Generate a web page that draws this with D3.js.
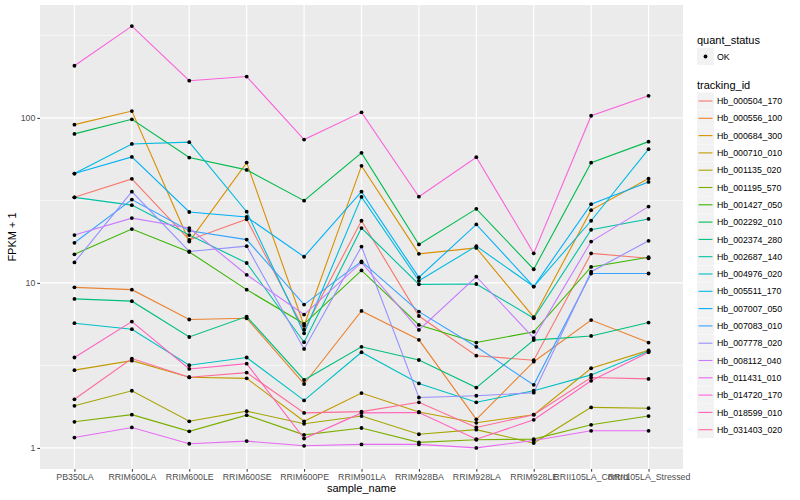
<!DOCTYPE html>
<meta charset="utf-8">
<script src="https://d3js.org/d3.v7.min.js"></script>
<style>
  body { margin: 0; background: #fff; }
  text { font-family: "Liberation Sans", Arial, sans-serif; }
</style>
<body>
<script>
// Samples on the x axis
var samples = ["PB350LA", "RRIM600LA", "RRIM600LE", "RRIM600SE", "RRIM600PE", "RRIM901LA",
               "RRIM928BA", "RRIM928LA", "RRIM928LE", "RRII105LA_Control", "RRII105LA_Stressed"];

// Tracking ids in legend order
var trackingIds = ["Hb_000504_170", "Hb_000556_100", "Hb_000684_300", "Hb_000710_010", "Hb_001135_020",
                   "Hb_001195_570", "Hb_001427_050", "Hb_002292_010", "Hb_002374_280", "Hb_002687_140",
                   "Hb_004976_020", "Hb_005511_170", "Hb_007007_050", "Hb_007083_010", "Hb_007778_020",
                   "Hb_008112_040", "Hb_011431_010", "Hb_014720_170", "Hb_018599_010", "Hb_031403_020"];

// FPKM + 1 for each tracking id, one value per sample
var hb000504 = [33, 42.7, 18.2, 24.3, 5.2, 23.8, 6.3, 3.62, 3.4, 15.1, 14.1];
var hb000556 = [9.4, 9.1, 6.0, 6.1, 2.44, 6.76, 4.52, 1.49, 3.33, 5.95, 4.35];
var hb000684 = [91, 110, 17.8, 53.6, 5.5, 51.2, 15.0, 16.3, 6.2, 27.6, 42.9];
var hb000710 = [2.96, 3.38, 2.68, 2.64, 1.45, 2.15, 1.65, 1.42, 1.59, 3.04, 3.9];
var hb001135 = [1.80, 2.22, 1.45, 1.67, 1.40, 1.56, 1.21, 1.29, 1.07, 1.76, 1.74];
var hb001195 = [1.44, 1.59, 1.26, 1.58, 1.2, 1.32, 1.08, 1.12, 1.13, 1.38, 1.56];
var hb001427 = [14.9, 21.2, 15.4, 9.1, 5.65, 11.9, 5.56, 4.35, 5.05, 12.5, 14.3];
var hb002292 = [80, 98, 57.5, 48.4, 31.5, 61.4, 17.1, 28.1, 12.1, 53.5, 71.8];
var hb002374 = [8.0, 7.75, 4.7, 6.25, 2.58, 4.1, 3.41, 2.32, 4.5, 4.77, 5.75];
var hb002687 = [33, 29.6, 19.5, 13.2, 4.37, 21.5, 9.8, 9.85, 6.1, 21, 24.4];
var hb004976 = [5.7, 5.24, 3.17, 3.53, 1.94, 3.8, 2.46, 1.89, 2.22, 2.77, 3.85];
var hb005511 = [46, 69.5, 71.3, 27, 4.95, 33.2, 10.3, 16.7, 9.5, 23.8, 64.6];
var hb007007 = [46, 58, 26.9, 25.1, 14.4, 35.7, 10.8, 22.6, 9.5, 30, 40.9];
var hb007083 = [17.5, 32, 20.7, 18.3, 7.39, 13.5, 6.7, 4.1, 2.41, 11.4, 11.4];
var hb007778 = [13.3, 35.7, 15.5, 16.7, 3.98, 16.6, 2.02, 2.07, 2.16, 11.7, 18];
var hb008112 = [19.5, 24.7, 21.5, 11.2, 6.43, 13.3, 5.19, 10.9, 4.63, 17.8, 29];
var hb011431 = [1.155, 1.33, 1.06, 1.10, 1.03, 1.05, 1.05, 1.0, 1.11, 1.27, 1.27];
var hb014720 = [207, 360, 168, 178, 73.9, 108, 33.3, 57.8, 15.1, 103, 136];
var hb018599 = [3.53, 5.83, 3.01, 3.24, 1.14, 1.63, 1.64, 1.13, 1.48, 2.55, 3.8];
var hb031403 = [1.97, 3.48, 2.68, 2.86, 1.63, 1.66, 1.89, 1.33, 1.59, 2.67, 2.62];

var seriesValues = [hb000504, hb000556, hb000684, hb000710, hb001135, hb001195, hb001427,
                    hb002292, hb002374, hb002687, hb004976, hb005511, hb007007, hb007083,
                    hb007778, hb008112, hb011431, hb014720, hb018599, hb031403];

// ggplot hue palette for 20 levels
var palette = ["#F8766D", "#EA8331", "#D89000", "#C09B00", "#A3A500", "#7CAE00", "#39B600",
               "#00BB4E", "#00BF7D", "#00C1A3", "#00BFC4", "#00BAE0", "#00B0F6", "#35A2FF",
               "#9590FF", "#C77CFF", "#E76BF3", "#FA62DB", "#FF62BC", "#FF6A98"];

var yBreaks = [1, 10, 100];
var yMinor = [Math.pow(10, 0.5), Math.pow(10, 1.5), Math.pow(10, 2.5)];

var W = 800, H = 500;
var panel = {left: 40, right: 683, top: 5, bottom: 469};

var svg = d3.select("body").append("svg")
    .attr("width", W).attr("height", H);

var series = trackingIds.map(function(id, i) {
  return {id: id, color: palette[i],
          values: samples.map(function(s, j) { return {sample: s, v: seriesValues[i][j]}; })};
});

// log scale with 5% expansion like ggplot
var all = [].concat.apply([], seriesValues);
var lo = Math.log10(d3.min(all)), hi = Math.log10(d3.max(all));
var pad = (hi - lo) * 0.05;
var y = d3.scaleLog()
    .domain([Math.pow(10, lo - pad), Math.pow(10, hi + pad)])
    .range([panel.bottom, panel.top]);

var x = d3.scalePoint()
    .domain(samples)
    .range([panel.left, panel.right])
    .padding(0.6);

// panel background and grid
svg.append("rect")
    .attr("x", panel.left).attr("y", panel.top)
    .attr("width", panel.right - panel.left).attr("height", panel.bottom - panel.top)
    .attr("fill", "#EBEBEB");

svg.selectAll(".minor").data(yMinor).enter().append("line")
    .attr("x1", panel.left).attr("x2", panel.right)
    .attr("y1", function(d) { return y(d); }).attr("y2", function(d) { return y(d); })
    .attr("stroke", "#fff").attr("stroke-width", 0.6);

svg.selectAll(".major").data(yBreaks).enter().append("line")
    .attr("x1", panel.left).attr("x2", panel.right)
    .attr("y1", function(d) { return y(d); }).attr("y2", function(d) { return y(d); })
    .attr("stroke", "#fff").attr("stroke-width", 1.2);

svg.selectAll(".vmajor").data(samples).enter().append("line")
    .attr("x1", function(d) { return x(d); }).attr("x2", function(d) { return x(d); })
    .attr("y1", panel.top).attr("y2", panel.bottom)
    .attr("stroke", "#fff").attr("stroke-width", 1.2);

// lines
var line = d3.line()
    .x(function(d) { return x(d.sample); })
    .y(function(d) { return y(d.v); });

svg.selectAll(".series").data(series).enter().append("path")
    .attr("d", function(d) { return line(d.values); })
    .attr("fill", "none")
    .attr("stroke", function(d) { return d.color; })
    .attr("stroke-width", 1.1);

// points
series.forEach(function(s) {
  svg.selectAll(null).data(s.values).enter().append("circle")
      .attr("cx", function(d) { return x(d.sample); })
      .attr("cy", function(d) { return y(d.v); })
      .attr("r", 1.9)
      .attr("fill", "#000");
});

// axes
var yAxis = svg.append("g")
    .attr("transform", "translate(" + panel.left + ",0)")
    .call(d3.axisLeft(y).tickValues(yBreaks).tickFormat(d3.format("d")).tickSize(2.7).tickPadding(2));
var xAxis = svg.append("g")
    .attr("transform", "translate(0," + panel.bottom + ")")
    .call(d3.axisBottom(x).tickSize(2.7).tickPadding(2));

[yAxis, xAxis].forEach(function(a) {
  a.select(".domain").remove();
  a.selectAll(".tick line").attr("stroke", "#333333");
  a.selectAll(".tick text").attr("fill", "#4D4D4D").style("font-size", "8.8px")
      .style("font-family", "'Liberation Sans', Arial, sans-serif");
});

svg.append("text")
    .attr("x", (panel.left + panel.right) / 2).attr("y", 492)
    .attr("text-anchor", "middle").style("font-size", "11px").text("sample_name");

svg.append("text")
    .attr("transform", "translate(16," + ((panel.top + panel.bottom) / 2) + ") rotate(-90)")
    .attr("text-anchor", "middle").style("font-size", "11px").text("FPKM + 1");

// legend
var lg = svg.append("g").attr("transform", "translate(697,0)");
lg.append("text").attr("x", 0).attr("y", 44).style("font-size", "11px").text("quant_status");
lg.append("rect").attr("x", 0).attr("y", 48).attr("width", 17).attr("height", 17).attr("fill", "#F2F2F2");
lg.append("circle").attr("cx", 8.5).attr("cy", 56.5).attr("r", 1.9).attr("fill", "#000");
lg.append("text").attr("x", 20).attr("y", 59.7).style("font-size", "8.8px").text("OK");

lg.append("text").attr("x", 0).attr("y", 89).style("font-size", "11px").text("tracking_id");
var keyH = 17.3, key0 = 92.5;
var keys = lg.selectAll(".key").data(series).enter().append("g")
    .attr("transform", function(d, i) { return "translate(0," + (key0 + i * keyH) + ")"; });
keys.append("rect").attr("width", 17).attr("height", 17).attr("fill", "#F2F2F2");
keys.append("line").attr("x1", 1.5).attr("x2", 15.5).attr("y1", 8.5).attr("y2", 8.5)
    .attr("stroke", function(d) { return d.color; }).attr("stroke-width", 1.1);
keys.append("text").attr("x", 20).attr("y", 11.7).style("font-size", "8.8px")
    .text(function(d) { return d.id; });
</script>
</body>
